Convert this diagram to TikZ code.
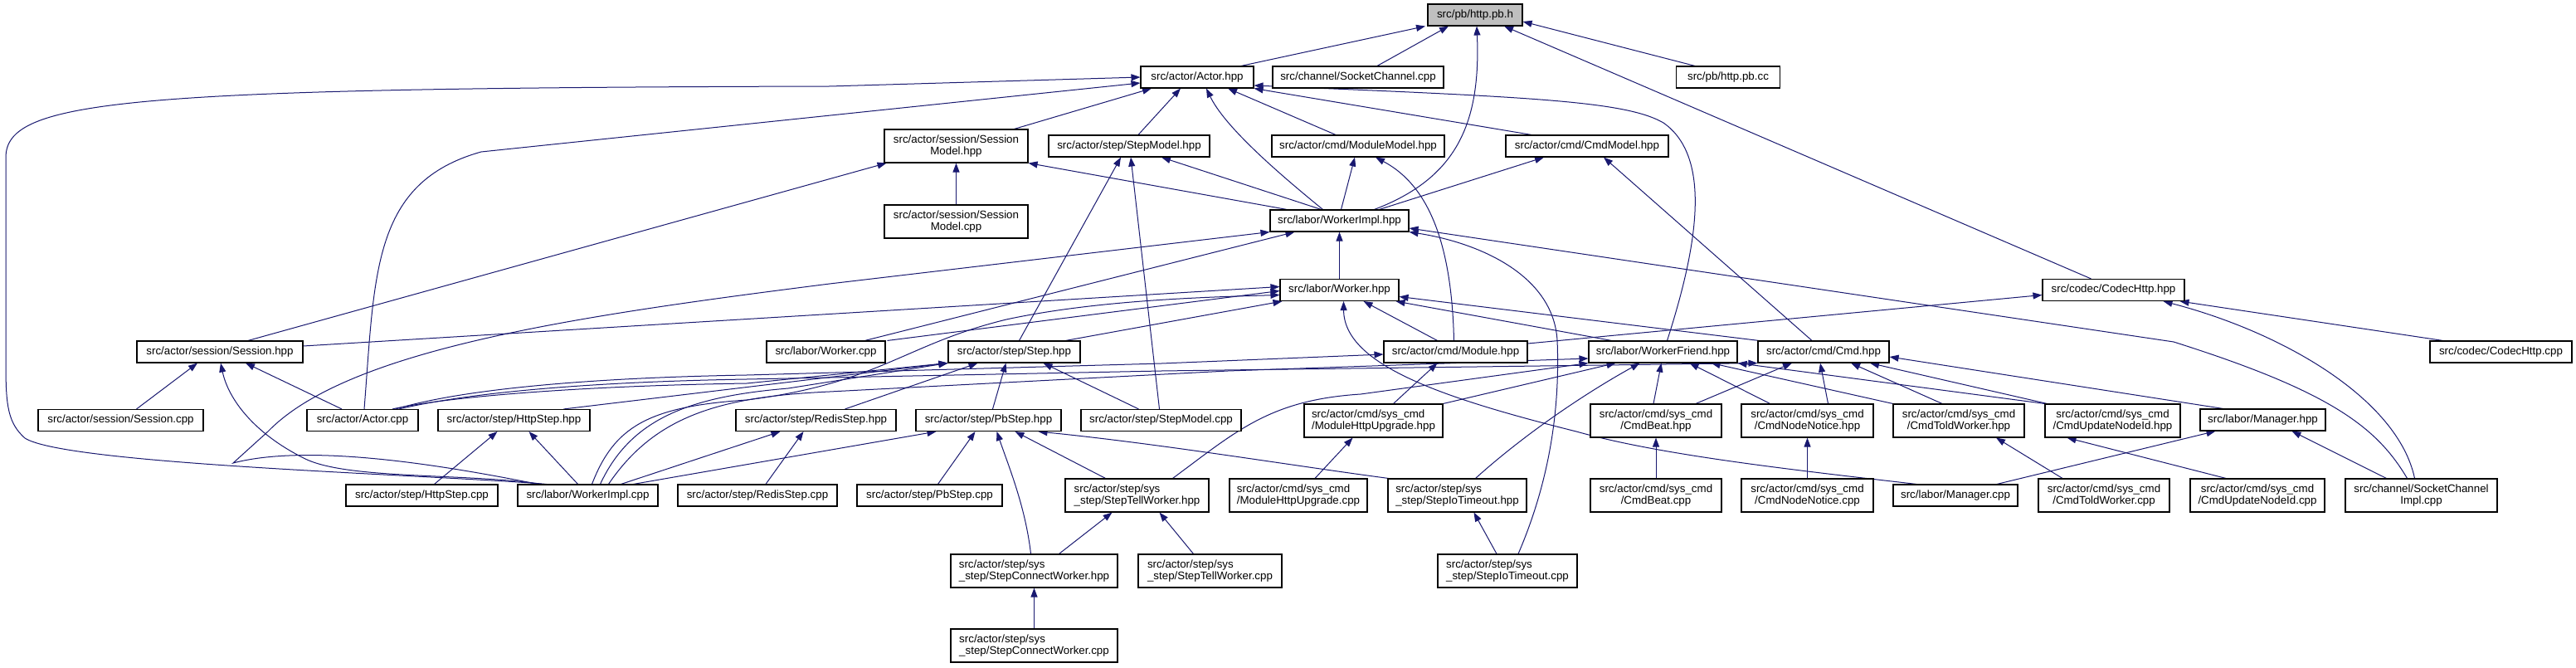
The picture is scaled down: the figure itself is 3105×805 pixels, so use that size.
\documentclass[tikz,border=0pt]{standalone}
\usepackage{fontspec}
\newfontfamily\lblfont{Liberation Sans}
\usetikzlibrary{arrows.meta}
\definecolor{edgecol}{HTML}{191970}
\pgfdeclarelayer{bg}
\pgfsetlayers{bg,main}
\begin{document}
\begin{tikzpicture}[x=1pt,y=-1pt,
  box/.style={draw=black, line width=1.1pt, fill=white, inner sep=0pt, minimum height=26pt,
    font=\lblfont\fontsize{13.33pt}{14.5pt}\selectfont, align=center},
  tall/.style={minimum height=40pt},
  lft/.style={align=left},
  edge/.style={draw=edgecol, line width=1pt, -{Triangle[length=11pt,width=8pt]}}]
\useasboundingbox (0,0) rectangle (3105,805);
% ---------------- nodes ----------------
\node[box,minimum width=114pt,fill=gray!50] (hpbh) at (1778,18) {src/pb/http.pb.h};
\node[box,minimum width=136pt] (acth) at (1443,93) {src/actor/Actor.hpp};
\node[box,minimum width=206pt] (scc) at (1637,93) {src/channel/SocketChannel.cpp};
\node[box,minimum width=125pt] (hpbcc) at (2083,93) {src/pb/http.pb.cc};
\node[box,tall,minimum width=173pt] (smh) at (1152.5,176) {src/actor/session/Session\\Model.hpp};
\node[box,minimum width=194pt] (stmh) at (1361,176) {src/actor/step/StepModel.hpp};
\node[box,minimum width=208pt] (mmh) at (1637,176) {src/actor/cmd/ModuleModel.hpp};
\node[box,minimum width=196pt] (cmh) at (1913,176) {src/actor/cmd/CmdModel.hpp};
\node[box,tall,minimum width=173pt] (smc) at (1152.5,267) {src/actor/session/Session\\Model.cpp};
\node[box,minimum width=167pt] (wih) at (1614.5,266) {src/labor/WorkerImpl.hpp};
\node[box,minimum width=143pt] (wh) at (1614.5,349.5) {src/labor/Worker.hpp};
\node[box,minimum width=171pt] (chh) at (2547.5,349.5) {src/codec/CodecHttp.hpp};
\node[box,minimum width=200pt] (sesh) at (265,424) {src/actor/session/Session.hpp};
\node[box,minimum width=143pt] (wc) at (995.5,424) {src/labor/Worker.cpp};
\node[box,minimum width=159pt] (sth) at (1222.5,424) {src/actor/step/Step.hpp};
\node[box,minimum width=173pt] (modh) at (1754.5,424) {src/actor/cmd/Module.hpp};
\node[box,minimum width=179pt] (wfh) at (2004.5,424) {src/labor/WorkerFriend.hpp};
\node[box,minimum width=158pt] (cmdh) at (2198,424) {src/actor/cmd/Cmd.hpp};
\node[box,minimum width=171pt] (chc) at (3014.5,424) {src/codec/CodecHttp.cpp};
\node[box,minimum width=199pt] (sesc) at (145.5,506.5) {src/actor/session/Session.cpp};
\node[box,minimum width=134pt] (actc) at (437,506.5) {src/actor/Actor.cpp};
\node[box,minimum width=183pt] (hsh) at (619.5,506.5) {src/actor/step/HttpStep.hpp};
\node[box,minimum width=193pt] (rsh) at (983.5,506.5) {src/actor/step/RedisStep.hpp};
\node[box,minimum width=175pt] (psh) at (1191.5,506.5) {src/actor/step/PbStep.hpp};
\node[box,minimum width=193pt] (stmc) at (1399.5,506.5) {src/actor/step/StepModel.cpp};
\node[box,tall,lft,minimum width=167pt] (mhuh) at (1655.5,507) {src/actor/cmd/sys\_cmd\\/ModuleHttpUpgrade.hpp};
\node[box,tall,minimum width=158pt] (cbh) at (1996,507) {src/actor/cmd/sys\_cmd\\/CmdBeat.hpp};
\node[box,tall,minimum width=159pt] (cnnh) at (2178.5,507) {src/actor/cmd/sys\_cmd\\/CmdNodeNotice.hpp};
\node[box,tall,minimum width=158pt] (ctwh) at (2361,507) {src/actor/cmd/sys\_cmd\\/CmdToldWorker.hpp};
\node[box,tall,minimum width=163pt] (cunh) at (2546.5,507) {src/actor/cmd/sys\_cmd\\/CmdUpdateNodeId.hpp};
\node[box,minimum width=151pt] (mgh) at (2727.5,506) {src/labor/Manager.hpp};
\node[box,minimum width=183pt] (hsc) at (508.5,597) {src/actor/step/HttpStep.cpp};
\node[box,minimum width=169pt] (wic) at (708.5,597) {src/labor/WorkerImpl.cpp};
\node[box,minimum width=192pt] (rsc) at (913,597) {src/actor/step/RedisStep.cpp};
\node[box,minimum width=175pt] (psc) at (1120.5,597) {src/actor/step/PbStep.cpp};
\node[box,tall,lft,minimum width=173pt] (stwh) at (1370.5,597) {src/actor/step/sys\\\_step/StepTellWorker.hpp};
\node[box,tall,lft,minimum width=166pt] (mhuc) at (1565,597) {src/actor/cmd/sys\_cmd\\/ModuleHttpUpgrade.cpp};
\node[box,tall,lft,minimum width=167pt] (sith) at (1756.5,597) {src/actor/step/sys\\\_step/StepIoTimeout.hpp};
\node[box,tall,minimum width=158pt] (cbc) at (1996,597) {src/actor/cmd/sys\_cmd\\/CmdBeat.cpp};
\node[box,tall,minimum width=159pt] (cnnc) at (2178.5,597) {src/actor/cmd/sys\_cmd\\/CmdNodeNotice.cpp};
\node[box,minimum width=150pt] (mgc) at (2357,597) {src/labor/Manager.cpp};
\node[box,tall,minimum width=158pt] (ctwc) at (2536,597) {src/actor/cmd/sys\_cmd\\/CmdToldWorker.cpp};
\node[box,tall,minimum width=162pt] (cunc) at (2721,597) {src/actor/cmd/sys\_cmd\\/CmdUpdateNodeId.cpp};
\node[box,tall,minimum width=183pt] (scic) at (2918.5,597) {src/channel/SocketChannel\\Impl.cpp};
\node[box,tall,lft,minimum width=201pt] (scwh) at (1246.5,688) {src/actor/step/sys\\\_step/StepConnectWorker.hpp};
\node[box,tall,lft,minimum width=173pt] (stwc) at (1458.5,688) {src/actor/step/sys\\\_step/StepTellWorker.cpp};
\node[box,tall,lft,minimum width=168pt] (sitc) at (1817,688) {src/actor/step/sys\\\_step/StepIoTimeout.cpp};
\node[box,tall,lft,minimum width=201pt] (scwc) at (1246.5,778) {src/actor/step/sys\\\_step/StepConnectWorker.cpp};
% ---------------- edges ----------------
\begin{pgfonlayer}{bg}
\fill[white] (0,0) rectangle (3105,805);
% into http.pb.h
\draw[edge] ([xshift=53pt]acth.north) -- ([xshift=-60pt]hpbh.south);
\draw[edge] ([xshift=23pt]scc.north) -- ([xshift=-32pt]hpbh.south);
\draw[edge] ([xshift=42pt]wih.north) .. controls (1755,215) and (1785,150) .. ([xshift=2pt]hpbh.south);
\draw[edge] ([xshift=-27pt]chh.north) -- ([xshift=35pt]hpbh.south);
\draw[edge] ([xshift=-40pt]hpbcc.north) -- ([yshift=-8pt]hpbh.east);
% into Actor.hpp
\draw[edge] ([xshift=-50pt]wic.north) .. controls (520,572) and (80,560) .. (30,528) .. controls (10,510) and (7,490) .. (7,440) -- (7,190) .. controls (7,120) and (150,106) .. (1000,104) -- (acth.west);
\draw[edge] ([xshift=2pt]actc.north) .. controls (452,330) and (448,220) .. (580,183) -- ([yshift=-7pt]acth.west);
\draw[edge] ([xshift=70pt]smh.north) -- ([xshift=-55pt]acth.south);
\draw[edge] ([xshift=11pt]stmh.north) -- ([xshift=-20pt]acth.south);
\draw[edge] ([xshift=-20pt]wih.north) .. controls (1530,200) and (1475,150) .. ([xshift=11pt]acth.south);
\draw[edge] ([xshift=-27pt]mmh.north) -- ([xshift=37pt]acth.south);
\draw[edge] ([xshift=-67pt]cmh.north) -- (acth.south east);
\draw[edge] ([xshift=5pt]wfh.north) .. controls (2045,300) and (2065,190) .. (2005,148) .. controls (1960,122) and (1850,117) .. ([yshift=-10pt]acth.east);
% SessionModel.hpp
\draw[edge] (smc) -- (smh);
\draw[edge] ([xshift=34pt]sesh.north) -- ([xshift=-84pt]smh.south);
\draw[edge] ([xshift=-63.5pt]wih.north) -- (smh.south east);
% StepModel.hpp
\draw[edge] ([xshift=-22pt]wih.north) -- ([xshift=39pt]stmh.south);
\draw[edge] ([xshift=6pt]sth.north) -- ([xshift=-10pt]stmh.south);
\draw[edge] ([xshift=-2pt]stmc.north) -- ([xshift=2pt]stmh.south);
% ModuleModel.hpp
\draw[edge] ([xshift=2pt]wih.north) -- ([xshift=-4pt]mmh.south);
\draw[edge] ([xshift=-2pt]modh.north) .. controls (1750,300) and (1725,225) .. ([xshift=21pt]mmh.south);
% CmdModel.hpp
\draw[edge] ([xshift=48pt]wih.north) -- ([xshift=-52pt]cmh.south);
\draw[edge] ([xshift=-14pt]cmdh.north) -- ([xshift=20pt]cmh.south);
% WorkerImpl.hpp
\draw[edge] (wh) -- (wih);
\draw[edge] ([xshift=-60pt]wic.north) .. controls (560,566) and (380,532) .. (281,558) -- (323,520) .. controls (420,420) and (700,380) .. (1000,342) -- (wih.south west);
\draw[edge] ([xshift=47pt]wc.north) -- ([xshift=-54pt]wih.south);
\draw[edge] ([xshift=-17pt]scic.north) .. controls (2865,515) and (2810,472) .. (2620,412) -- ([yshift=-9pt]wih.east);
\draw[edge] ([xshift=13pt]sitc.north) .. controls (1872,570) and (1880,480) .. (1877,410) .. controls (1872,330) and (1780,292) .. (wih.south east);
% Worker.hpp
\draw[edge] ([yshift=7pt]sesh.east) -- ([yshift=4pt]wh.west);
\draw[edge] ([xshift=74pt]wc.north) -- ([yshift=-1pt]wh.west);
\draw[edge] ([xshift=5pt]wic.north) .. controls (740,515) and (780,490) .. (900,482) .. controls (1060,462) and (1090,415) .. (1213,385) .. controls (1320,362) and (1450,358) .. ([yshift=-6pt]wh.west);
\draw[edge] ([xshift=62pt]sth.north) -- ([xshift=3pt]wh.south west);
\draw[edge] ([xshift=-22pt]modh.north) -- ([xshift=29pt]wh.south);
\draw[edge] ([xshift=-62pt]wfh.north) -- ([xshift=68pt]wh.south);
\draw[edge] ([xshift=-78pt]cmdh.north) -- ([yshift=-8pt]wh.east);
\draw[edge] ([xshift=-47pt]mgc.north) .. controls (2150,565) and (2000,548) .. (1900,520) .. controls (1740,480) and (1620,440) .. ([xshift=5pt]wh.south);
% Session.hpp
\draw[edge] ([xshift=19pt]sesc.north) -- ([xshift=-27pt]sesh.south);
\draw[edge] ([xshift=-55pt]wic.north) .. controls (560,570) and (420,578) .. (368,553) .. controls (305,522) and (275,480) .. ([xshift=1pt]sesh.south);
\draw[edge] ([xshift=-25pt]actc.north) -- ([xshift=31pt]sesh.south);
% Actor.cpp long ones
\draw[edge] ([xshift=36pt]actc.north) .. controls (540,478) and (700,465) .. (900,462) -- (sth.south west);
\draw[edge] ([xshift=40pt]actc.north) .. controls (560,468) and (720,455) .. (900,452) -- (1400,438) -- ([yshift=-3pt]modh.west);
\draw[edge] ([xshift=44pt]actc.north) .. controls (570,472) and (720,460) .. (900,457) -- (1400,447) -- (cmdh.south west);
% WorkerImpl.cpp long ones
\draw[edge] ([xshift=15pt]wic.north) .. controls (760,505) and (830,478) .. (950,468) -- (sth.south west);
\draw[edge] ([xshift=25pt]wic.north) .. controls (790,500) and (870,478) .. (1000,472) -- (1480,447) -- ([yshift=-8pt]wfh.west);
% HttpStep.hpp
\draw[edge] ([xshift=-12pt]wic.north) -- ([xshift=18pt]hsh.south);
\draw[edge] ([xshift=15pt]hsc.north) -- ([xshift=-20pt]hsh.south);
\draw[edge] ([xshift=60pt]hsh.north) -- (sth.south west);
% RedisStep.hpp
\draw[edge] ([xshift=40pt]wic.north) -- ([xshift=-43pt]rsh.south);
\draw[edge] ([xshift=10pt]rsc.north) -- ([xshift=-15pt]rsh.south);
\draw[edge] ([xshift=35pt]rsh.north) -- ([xshift=-44pt]sth.south);
% PbStep.hpp
\draw[edge] ([xshift=55pt]wic.north) -- ([xshift=-63pt]psh.south);
\draw[edge] ([xshift=10pt]psc.north) -- ([xshift=-16pt]psh.south);
\draw[edge] ([xshift=-4pt]scwh.north) .. controls (1236,610) and (1215,560) .. ([xshift=10pt]psh.south);
\draw[edge] ([xshift=-38pt]stwh.north) -- ([xshift=32pt]psh.south);
\draw[edge] ([xshift=-83pt]sith.north) .. controls (1550,560) and (1400,535) .. ([xshift=60pt]psh.south);
\draw[edge] ([xshift=5pt]psh.north) -- ([xshift=-10pt]sth.south);
\draw[edge] ([xshift=-27pt]stmc.north) -- ([xshift=35pt]sth.south);
% step sys
\draw[edge] ([xshift=30pt]scwh.north) -- ([xshift=-30pt]stwh.south);
\draw[edge] ([xshift=-20pt]stwc.north) -- ([xshift=27pt]stwh.south);
\draw[edge] (scwc) -- (scwh);
\draw[edge] ([xshift=-13pt]sitc.north) -- ([xshift=20pt]sith.south);
\draw[edge] ([xshift=20pt]mhuc.north) -- ([xshift=-25pt]mhuh.south);
% Module.hpp
\draw[edge] ([xshift=24pt]mhuh.north) -- ([xshift=-22pt]modh.south);
\draw[edge] ([yshift=10pt]modh.east) -- ([yshift=-6pt]chh.west);
% WorkerFriend.hpp
\draw[edge] (mhuh.north east) -- ([xshift=-57pt]wfh.south);
\draw[edge] ([xshift=43pt]stwh.north) .. controls (1490,520) and (1530,482) .. (1640,475) -- (wfh.south west);
\draw[edge] ([xshift=22pt]sith.north) .. controls (1830,530) and (1900,480) .. ([xshift=-28pt]wfh.south);
\draw[edge] ([xshift=-3pt]cbh.north) -- ([xshift=-2pt]wfh.south);
\draw[edge] ([xshift=-45pt]cnnh.north) -- ([xshift=32pt]wfh.south);
\draw[edge] (ctwh.north west) -- ([xshift=58pt]wfh.south);
\draw[edge] (cunh.north west) -- (wfh.south east);
% Cmd.hpp
\draw[edge] ([xshift=48pt]cbh.north) -- ([xshift=-38pt]cmdh.south);
\draw[edge] ([xshift=25pt]cnnh.north) -- ([xshift=-4pt]cmdh.south);
\draw[edge] ([xshift=-20pt]ctwh.north) -- ([xshift=33pt]cmdh.south);
\draw[edge] ([xshift=3pt]cunh.north west) -- ([xshift=56pt]cmdh.south);
\draw[edge] ([xshift=-48pt]mgh.north) -- ([yshift=-6pt]cmdh.east);
% lower rows
\draw[edge] (cbc) -- (cbh);
\draw[edge] (cnnc) -- (cnnh);
\draw[edge] ([xshift=-50pt]ctwc.north) -- ([xshift=45pt]ctwh.south);
\draw[edge] ([xshift=-38pt]cunc.north) -- ([xshift=-55pt]cunh.south);
\draw[edge] ([xshift=50pt]mgc.north) -- ([xshift=-57pt]mgh.south);
\draw[edge] ([xshift=-42pt]scic.north) -- ([xshift=35pt]mgh.south);
\draw[edge] ([xshift=-8pt]scic.north) .. controls (2890,480) and (2750,400) .. ([xshift=60pt]chh.south);
\draw[edge] ([xshift=-70pt]chc.north) -- ([xshift=80pt]chh.south);
\end{pgfonlayer}
\end{tikzpicture}
\end{document}
